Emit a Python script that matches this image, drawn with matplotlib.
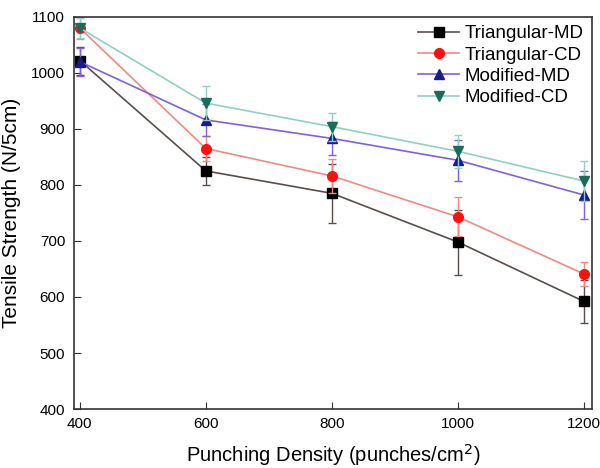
import numpy as np
import matplotlib
matplotlib.use("Agg")
import matplotlib.pyplot as plt

plt.rcParams['font.family'] = ['Liberation Sans', 'DejaVu Sans']

density = [400, 600, 800, 1000, 1200]

tri_md = [1022, 825, 785, 698, 592]
tri_md_err = [25, 25, 53, 58, 38]
tri_cd = [1080, 865, 816, 743, 641]
tri_cd_err = [20, 22, 30, 35, 22]
mod_md = [1020, 916, 883, 844, 782]
mod_md_err = [25, 28, 30, 37, 43]
mod_cd = [1080, 946, 904, 860, 807]
mod_cd_err = [18, 30, 25, 29, 35]

series = [
    ("Triangular-MD", tri_md, tri_md_err, "s", "#5a4e4a", "black"),
    ("Triangular-CD", tri_cd, tri_cd_err, "o", "#f08a80", "#ff1010"),
    ("Modified-MD", mod_md, mod_md_err, "^", "#8060e0", "#1a1a8c"),
    ("Modified-CD", mod_cd, mod_cd_err, "v", "#90d0c4", "#1a6b5a"),
]

fig = plt.figure(figsize=(6, 4.68), dpi=100)
ax = fig.add_axes([0.1225, 0.126, 0.8645, 0.838])

for name, vals, err, mk, lc, mc in series:
    ax.errorbar(density, vals, yerr=err, fmt='none', ecolor=lc,
                elinewidth=1.0, capsize=3, capthick=1.0)
    ax.plot(density, vals, color=lc, marker=mk, markersize=7,
            markerfacecolor=mc, markeredgecolor=mc, lw=1.2, label=name)

ax.set_xlim(390, 1213)
ax.set_ylim(400, 1100)
ax.set_xticks(density)
ax.set_yticks(np.arange(400, 1101, 100))
ax.tick_params(direction='in', labelsize=11, length=5, pad=6, color='#333333')
ax.set_xlabel("Punching Density (punches/cm$^2$)", fontsize=14.5, labelpad=8)
ax.set_ylabel("Tensile Strength (N/5cm)", fontsize=15, labelpad=7)
for s in ax.spines.values():
    s.set_color('#333333')
    s.set_linewidth(1.2)

ax.legend(loc='upper right', frameon=False, fontsize=13.5, handlelength=2.2,
          handletextpad=0.3, borderaxespad=0.1, labelspacing=0.22,
          borderpad=0.35)

fig.savefig("out.png", dpi=100)
